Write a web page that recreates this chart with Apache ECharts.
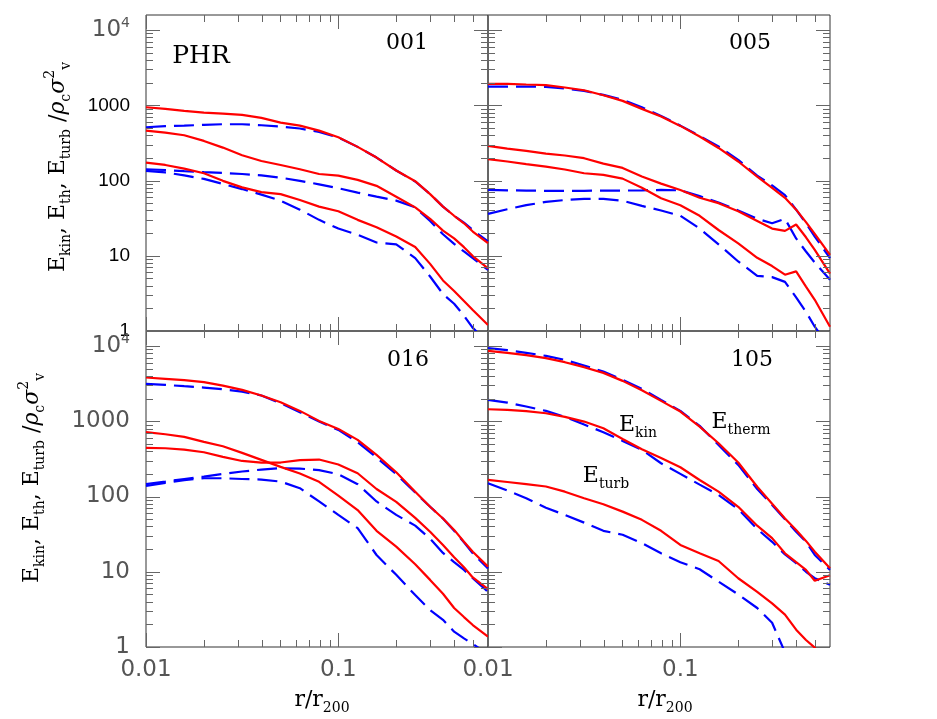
<!DOCTYPE html>
<html>
<head>
<meta charset="utf-8">
<script src="https://cdn.jsdelivr.net/npm/echarts@6/dist/echarts.min.js"></script>
<style>
  html, body { margin: 0; padding: 0; background: #fff; }
  #chart { width: 937px; height: 719px; }
</style>
</head>
<body>
<div id="chart"></div>
<script>
// radial bins r/r200 shared by all profiles
const rGrid = [0.01, 0.0126, 0.0158, 0.02, 0.0251, 0.0316, 0.0398, 0.0501, 0.0631, 0.0794,
  0.1, 0.126, 0.158, 0.2, 0.251, 0.3, 0.35, 0.4, 0.45, 0.5, 0.6];

// halo 001
const red001Therm = [942, 896, 843, 801, 776, 745, 679, 589, 537, 461, 376, 280, 202, 136, 98, 66, 45, 34, 27, 21, 14.7];
const red001Kin = [461, 434, 400, 336, 274, 217, 182, 161, 141, 122, 116, 102, 85, 61, 44, 31, 21.6, 17, 13, 9.9, 6.8];
const red001Turb = [173, 161, 144, 125, 99, 81, 70, 66, 55, 45, 39, 30, 24, 18, 13.1, 7.8, 4.7, 3.4, 2.5, 1.9, 1.2];
const blue001Therm = [511, 527, 537, 549, 560, 560, 543, 521, 491, 443, 372, 280, 202, 136, 97, 66, 45, 34, 27.5, 22, 15.5];
const blue001Kin = [141, 138, 133, 129, 126, 122, 117, 109, 99, 89, 79, 69, 61, 54, 44, 29, 19.3, 14.4, 11.4, 9.3, 6.5];
const blue001Turb = [134, 128, 117, 105, 90, 77, 65, 54, 41, 30, 23, 19, 15, 14.2, 9.3, 5.3, 3.1, 2.3, 1.6, 1.1, 0.7];

// halo 005
const red005Therm = [1927, 1927, 1888, 1850, 1722, 1585, 1361, 1145, 896, 708, 532, 384, 271, 179, 113, 80, 59, 41, 28, 19.5, 10.3];
const red005Kin = [288, 266, 248, 228, 215, 198, 168, 147, 113, 91, 75, 59, 50, 39, 29, 23, 21.4, 26, 17.6, 12, 5.8];
const red005Turb = [192, 179, 165, 153, 140, 125, 119, 106, 80, 58, 47, 34, 22, 14.6, 9.4, 7.3, 5.6, 6.2, 3.9, 2.6, 1.14];
const blue005Therm = [1775, 1775, 1775, 1758, 1671, 1553, 1374, 1180, 942, 723, 537, 392, 283, 188, 116, 86, 64, 41, 27, 18, 9.3];
const blue005Kin = [75, 74, 73.5, 73, 73, 73, 73.5, 73.5, 74, 75, 74, 62, 51, 40, 31, 27, 31, 17, 11.4, 8.1, 4.8];
const blue005Turb = [36, 41.5, 47, 52, 55, 57, 57, 54, 46, 40, 34, 23, 14.2, 8.4, 5.4, 5.2, 4.5, 2.8, 1.8, 1.14, 0.6];

// halo 016
const red016Therm = [3819, 3664, 3517, 3309, 2985, 2616, 2200, 1793, 1375, 1012, 792, 566, 357, 210, 116, 73, 51, 36, 25, 18.5, 11.7];
const red016Kin = [716, 673, 621, 532, 466, 380, 307, 248, 202, 157, 103, 66, 35, 21.6, 12.6, 7.8, 5.1, 3.3, 2.5, 1.96, 1.37];
const red016Turb = [443, 438, 421, 388, 336, 297, 283, 283, 304, 310, 266, 204, 126, 85, 52, 34, 22.7, 15.6, 11.5, 8.4, 5.9];
const blue016Therm = [3141, 3048, 2926, 2809, 2670, 2484, 2200, 1740, 1321, 991, 769, 527, 330, 198, 113, 73, 51, 35, 24.6, 17.6, 11.1];
const blue016Kin = [146, 158, 171, 184, 200, 215, 228, 238, 235, 224, 198, 146, 86, 57, 41, 27.6, 17.8, 13.4, 10.6, 8.2, 5.4];
const blue016Turb = [138, 152, 165, 175, 175, 171, 168, 158, 129, 86, 57, 38, 16.7, 9.1, 4.9, 3.1, 2.3, 1.6, 1.3, 1.1, 0.8];

// halo 105
const red105Therm = [8630, 8121, 7564, 6900, 6100, 5236, 4400, 3445, 2588, 1868, 1347, 851, 511, 283, 135, 80, 51, 36, 25.7, 18.5, 11.1];
const red105Kin = [1446, 1419, 1361, 1279, 1145, 991, 809, 583, 425, 326, 245, 166, 116, 73, 41, 28, 17.6, 13.4, 10.6, 7.6, 9.0];
const red105Turb = [166, 156, 146, 136, 116, 95, 79, 63, 49, 35, 22.7, 17.6, 13.9, 8.2, 5.4, 3.8, 2.7, 1.7, 1.24, 0.98, 0.7];
const blue105Therm = [9370, 8810, 8121, 7413, 6560, 5510, 4580, 3556, 2698, 1927, 1375, 869, 485, 263, 126, 77, 50, 34, 25, 16.7, 10.6];
const blue105Kin = [1927, 1775, 1570, 1375, 1145, 905, 716, 549, 417, 277, 200, 144, 105, 68, 37, 25, 17, 13, 10, 8.2, 6.7];
const blue105Turb = [150, 120, 95, 71, 57, 45, 35, 31, 24, 17.6, 13.4, 10.8, 7.4, 5.0, 3.3, 2.1, 0.85, null, null, null, null];

// tick values
const xMajorTicks = [0.01, 0.1];
const xMinorTicks = [0.02, 0.03, 0.04, 0.05, 0.06, 0.07, 0.08, 0.09, 0.2, 0.3, 0.4, 0.5];
const yMajorTicks = [1, 10, 100, 1000, 10000];
const yMinorTicks = [2, 3, 4, 5, 6, 7, 8, 9, 20, 30, 40, 50, 60, 70, 80, 90,
  200, 300, 400, 500, 600, 700, 800, 900, 2000, 3000, 4000, 5000, 6000, 7000, 8000, 9000];
const panelNames = ['001', '005', '016', '105'];

const panels = [
  { red: [red001Therm, red001Kin, red001Turb], blue: [blue001Therm, blue001Kin, blue001Turb] },
  { red: [red005Therm, red005Kin, red005Turb], blue: [blue005Therm, blue005Kin, blue005Turb] },
  { red: [red016Therm, red016Kin, red016Turb], blue: [blue016Therm, blue016Kin, blue016Turb] },
  { red: [red105Therm, red105Kin, red105Turb], blue: [blue105Therm, blue105Kin, blue105Turb] }
];

const yTop = Math.pow(10, 4.2);
const serif = 'DejaVu Serif';
const gridBoxes = [
  { left: 146, top: 15 }, { left: 488, top: 15 },
  { left: 146, top: 331 }, { left: 488, top: 331 }
];

function isDecade(v) {
  const l = Math.log10(v);
  return Math.abs(l - Math.round(l)) < 1e-6;
}

function yLabel(dark) {
  return function (v) {
    if (!isDecade(v)) return '';
    const l = Math.round(Math.log10(v));
    if (l === 4) return '{g|10}{gs|4}';
    const s = String(Math.pow(10, l));
    return dark ? '{b|' + s + '}' : '{g|' + s + '}';
  };
}

function xLabel(v) {
  if (!isDecade(v)) return '';
  return String(parseFloat(v.toPrecision(6)));
}

function profile(idx, ys, colour, dashed) {
  return {
    type: 'line',
    xAxisIndex: idx,
    yAxisIndex: idx,
    data: rGrid.map((x, i) => [x, ys[i]]),
    symbol: 'none',
    showSymbol: false,
    clip: true,
    silent: true,
    animation: false,
    z: dashed ? 2 : 3,
    lineStyle: { color: colour, width: 2.2, type: dashed ? [20, 8] : 'solid' },
    itemStyle: { color: colour }
  };
}

// ticks on all four sides, placed through the panel's own log scales
function tickSeries(idx) {
  return {
    type: 'custom',
    xAxisIndex: idx,
    yAxisIndex: idx,
    data: [[0.1, 10]],
    clip: false,
    silent: true,
    animation: false,
    z: 4,
    renderItem: function (params, api) {
      const cs = params.coordSys;
      const l = cs.x, r = cs.x + cs.width, t = cs.y, b = cs.y + cs.height;
      const st = { stroke: '#666', lineWidth: 1 };
      const kids = [];
      const addX = (vals, len) => vals.forEach(v => {
        const px = Math.round(api.coord([v, 10])[0]) + 0.5;
        kids.push({ type: 'line', shape: { x1: px, y1: b, x2: px, y2: b - len }, style: st });
        kids.push({ type: 'line', shape: { x1: px, y1: t, x2: px, y2: t + len }, style: st });
      });
      const addY = (vals, len) => vals.forEach(v => {
        const py = Math.round(api.coord([0.1, v])[1]) + 0.5;
        kids.push({ type: 'line', shape: { x1: l, y1: py, x2: l + len, y2: py }, style: st });
        kids.push({ type: 'line', shape: { x1: r, y1: py, x2: r - len, y2: py }, style: st });
      });
      addX(xMajorTicks, 14);
      addX(xMinorTicks, 7);
      addY(yMajorTicks, 14);
      addY(yMinorTicks, 7);
      return { type: 'group', children: kids };
    }
  };
}

const grids = gridBoxes.map(g => ({
  left: g.left, top: g.top, width: 342, height: 316,
  show: true, borderColor: '#333', borderWidth: 1, backgroundColor: 'transparent'
}));

const xAxes = gridBoxes.map((g, i) => ({
  type: 'log', gridIndex: i, logBase: 10, min: 0.01, max: 0.6,
  axisLine: { show: false }, axisTick: { show: false }, splitLine: { show: false },
  axisLabel: {
    show: i >= 2, margin: 12, formatter: xLabel,
    color: '#555', fontSize: 23, fontFamily: 'DejaVu Sans'
  }
}));

const labelRich = {
  g: { fontFamily: 'DejaVu Sans', fontSize: 23, color: '#555', lineHeight: 28 },
  gs: { fontFamily: 'DejaVu Sans', fontSize: 14, color: '#555', verticalAlign: 'top', lineHeight: 14 },
  b: { fontFamily: 'Liberation Sans', fontSize: 19, color: '#000', lineHeight: 28 }
};

const yAxes = gridBoxes.map((g, i) => ({
  type: 'log', gridIndex: i, logBase: 10, min: 1, max: yTop,
  axisLine: { show: false }, axisTick: { show: false }, splitLine: { show: false },
  axisLabel: {
    show: i % 2 === 0, margin: 16, formatter: yLabel(i === 0), rich: labelRich
  }
}));

const series = [];
panels.forEach((p, i) => {
  p.blue.forEach(ys => series.push(profile(i, ys, '#0000ff', true)));
  p.red.forEach(ys => series.push(profile(i, ys, '#ff0000', false)));
  series.push(tickSeries(i));
});

const subRich = {
  e: { fontFamily: serif, fontSize: 22, color: '#000', lineHeight: 30 },
  gk: { fontFamily: serif, fontStyle: 'italic', fontSize: 22, color: '#000', lineHeight: 30 },
  sb: { fontFamily: serif, fontSize: 14, color: '#000', verticalAlign: 'bottom', lineHeight: 17 },
  sp: { fontFamily: serif, fontSize: 14, color: '#000', verticalAlign: 'top', lineHeight: 16 }
};
const yTitle = '{e|E}{sb|kin}{e|, E}{sb|th}{e|, E}{sb|turb}{e| /}{gk|ρ}{sb|c}{gk|σ}{sp|2}{sb|v}';
const xTitle = '{e|r/r}{sb|200}';

function richText(x, y, text, rot) {
  return {
    type: 'text', x: x, y: y, rotation: rot || 0, silent: true,
    style: { text: text, rich: subRich, align: 'center', verticalAlign: 'middle', x: 0, y: 0 }
  };
}
function plainText(x, y, text, size) {
  return {
    type: 'text', x: x, y: y, silent: true,
    style: { text: text, fontFamily: serif, fontSize: size, fill: '#000', align: 'center', verticalAlign: 'middle' }
  };
}

const graphics = [
  plainText(201, 56, 'PHR', 25),
  plainText(407, 43, panelNames[0], 22),
  plainText(750, 43, panelNames[1], 22),
  plainText(408, 360, panelNames[2], 22),
  plainText(752, 360, panelNames[3], 22),
  richText(638, 425, '{e|E}{sb|kin}'),
  richText(741, 422, '{e|E}{sb|therm}'),
  richText(606, 476, '{e|E}{sb|turb}'),
  richText(58, 167, yTitle, Math.PI / 2),
  richText(32, 478, yTitle, Math.PI / 2),
  richText(322, 700, xTitle),
  richText(665, 700, xTitle)
];

const chart = echarts.init(document.getElementById('chart'), null, { renderer: 'canvas' });
chart.setOption({
  animation: false,
  backgroundColor: '#fff',
  grid: grids,
  xAxis: xAxes,
  yAxis: yAxes,
  series: series,
  graphic: graphics
});
</script>
</body>
</html>
